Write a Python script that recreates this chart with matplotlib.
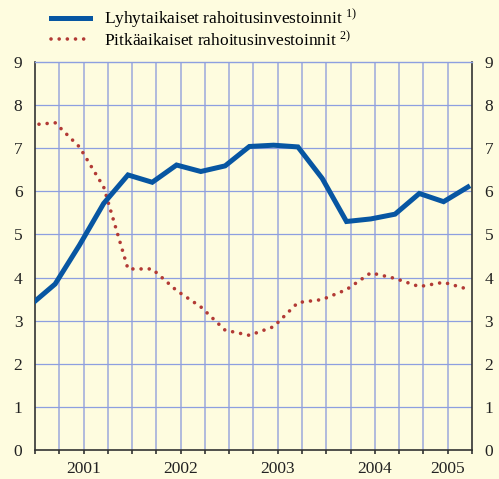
import numpy as np
import matplotlib
matplotlib.use("Agg")
import matplotlib.pyplot as plt
from matplotlib.ticker import FixedLocator, NullFormatter

plt.rcParams["font.family"] = ["Liberation Serif", "DejaVu Serif"]
plt.rcParams["mathtext.fontset"] = "custom"
plt.rcParams["mathtext.rm"] = "Liberation Serif"
plt.rcParams["mathtext.it"] = "Liberation Serif:italic"

# quarterly observations, 2001 Q1 .. 2005 Q3
SHORT = [3.37, 3.85, 4.75, 5.72, 6.38, 6.21, 6.61, 6.46, 6.59, 7.04,
         7.07, 7.03, 6.30, 5.30, 5.36, 5.47, 5.95, 5.76, 6.10]
LONG = [7.54, 7.59, 7.03, 6.10, 4.20, 4.20, 3.70, 3.32, 2.78, 2.66,
        2.86, 3.42, 3.49, 3.72, 4.11, 3.98, 3.79, 3.89, 3.73]
YEARS = ["2001", "2002", "2003", "2004", "2005"]
YEAR_CENTERS = [2, 6, 10, 14, 17]
LABELS = [r"Lyhytaikaiset rahoitusinvestoinnit $^{\mathrm{1)}}$",
          r"Pitkäaikaiset rahoitusinvestoinnit $^{\mathrm{2)}}$"]

BG = "#fefcdf"
BLUE = "#0756a2"
RED = "#b23a35"
GRID = "#8d9fe0"

x = np.arange(len(SHORT)) - 0.17

fig = plt.figure(figsize=(4.99, 4.79), dpi=100, facecolor=BG)
ax = fig.add_axes([0.0701, 0.0605, 0.8758, 0.8101], facecolor=BG)

ax.set_xlim(0, 18)
ax.set_ylim(0, 9)

for q in range(1, 18):
    ax.axvline(q, color="#aab5dc", lw=1.3, zorder=1)
for v in range(1, 9):
    ax.axhline(v, color=GRID, lw=0.9, zorder=1)

l1, = ax.plot(x, SHORT, color=BLUE, lw=3.6, solid_joinstyle="miter", zorder=3)
l2, = ax.plot(x, LONG, color=RED, lw=2.6, linestyle=(0, (0.01, 2.25)),
              dash_capstyle="round", zorder=2)

for s in ["left", "right", "bottom"]:
    ax.spines[s].set_color("#333333")
    ax.spines[s].set_linewidth(1.2)
ax.spines["top"].set_color(GRID)
ax.spines["top"].set_linewidth(1.0)

ax.set_yticks(range(10))
ax.tick_params(axis="y", length=0, pad=9, labelsize=12.5, left=True, right=True,
               labelleft=True, labelright=True, colors="#222222")
ax.xaxis.remove_overlapping_locs = False
ax.xaxis.set_major_locator(FixedLocator(range(19)))
ax.xaxis.set_major_formatter(NullFormatter())
ax.set_xticks(YEAR_CENTERS, YEARS, minor=True)
ax.tick_params(axis="x", which="major", direction="out", length=3, width=1.2,
               color="#333333")
ax.tick_params(axis="x", which="minor", length=0, pad=8, labelsize=12.5,
               labelcolor="#222222")

fig.legend([l1, l2], LABELS, loc="upper left", bbox_to_anchor=(0.082, 1.006),
           frameon=False, fontsize=12.5, handlelength=2.2, handletextpad=0.85,
           labelspacing=0.0, borderaxespad=0.2)

fig.savefig("out.png", dpi=100, facecolor=BG)
